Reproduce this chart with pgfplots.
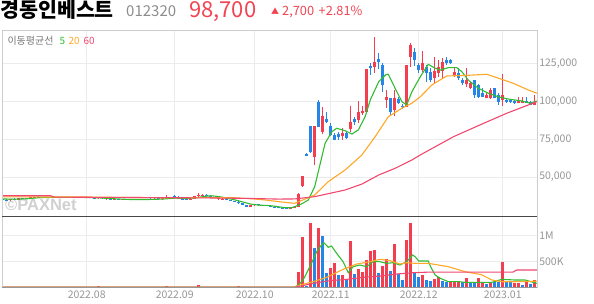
\documentclass[border=0pt]{standalone}
\usepackage{pgfplots}
\pgfplotsset{compat=1.18}
\usepackage{pgfplotstable}
\usepackage{fontspec}
\setmainfont{Noto Sans CJK KR}
\newfontfamily\lib{Liberation Sans}
\definecolor{cup}{RGB}{242,62,78}
\definecolor{cdn}{RGB}{38,134,232}
\definecolor{ma5}{RGB}{50,188,50}
\definecolor{ma20}{RGB}{255,168,40}
\definecolor{ma60}{RGB}{240,72,110}
\definecolor{gridc}{RGB}{236,236,236}
\definecolor{lab}{RGB}{150,150,150}
\definecolor{bordc}{RGB}{205,205,205}
\definecolor{darkc}{RGB}{70,70,70}
\definecolor{wm}{RGB}{208,208,208}
\definecolor{titr}{RGB}{240,68,82}
\definecolor{codec}{RGB}{140,140,140}
\definecolor{leg}{RGB}{120,120,120}

\pgfplotstableread{
d o h l c v vu
0 35500 35800 34600 34900 12 0
1 34900 35300 34400 34700 10 0
2 34700 35800 34500 35500 14 1
3 35500 35900 34900 35200 9 0
4 35200 36200 35000 35900 12 1
5 35900 36300 35400 35600 8 0
6 35600 36500 35500 36300 11 1
7 36300 36800 36000 36600 10 1
8 36600 37200 36300 36900 13 1
9 36900 37300 36400 36500 9 0
10 36500 37000 36300 36800 10 1
11 36800 37100 36400 36600 8 0
12 36600 37100 36300 36900 9 1
13 36900 37200 36500 36700 8 0
14 36700 37000 36200 36400 9 0
15 36400 36900 36200 36700 8 1
16 36700 37000 36400 36500 7 0
17 36500 36900 36300 36800 8 1
18 36800 37100 36500 36600 7 0
19 36600 36900 36300 36500 8 0
20 36500 37000 36300 36800 9 1
21 36800 37100 36400 36600 8 0
22 36600 36800 36100 36200 9 0
23 36200 36500 35800 35900 10 0
24 35900 37200 35700 36600 40 1
25 36600 36700 35800 35900 10 0
26 35400 35800 35100 35600 9 1
27 35600 35800 35000 35200 8 0
28 35200 35600 34900 35400 8 1
29 35400 35700 35000 35100 7 0
30 35100 35500 34800 35300 8 1
31 35300 35600 34900 35000 7 0
32 35000 35400 34700 35200 8 1
33 35200 35500 34800 34900 7 0
34 34900 35300 34600 35100 8 1
35 35100 35400 34700 34900 7 0
36 34900 35800 34800 35500 9 1
37 35500 35900 35000 35300 8 0
38 35300 36000 35100 35800 10 1
39 35800 36100 35300 35500 8 0
40 35500 36000 35200 35700 9 1
41 35700 38200 35600 36400 25 1
42 36400 37000 36000 36700 12 1
43 37500 38000 36600 36900 14 0
44 36900 37400 36200 36400 10 0
45 36000 36300 35000 35200 12 0
46 35600 36000 34900 35100 9 0
47 35100 36000 35000 35800 10 1
48 35800 37800 35700 37500 22 1
49 37300 39200 37100 38400 45 1
50 37600 38800 37400 38400 20 1
51 38500 38700 37500 37600 14 0
52 37600 37900 36800 37000 10 0
53 36200 36800 35900 36300 9 1
54 35400 36200 35100 35900 10 1
55 35200 35900 34900 35700 8 1
56 35700 35900 34800 34900 9 0
57 34900 35200 34100 34300 10 0
58 34200 34400 33500 33600 12 0
59 33600 34600 32500 32700 40 1
60 32700 32900 31400 31600 14 0
61 31600 31800 30400 30600 13 0
62 30600 31700 30400 31400 10 1
63 31300 32300 31100 32000 11 1
64 32000 32400 31200 31500 9 0
65 31500 31900 30900 31200 8 0
66 31200 31700 30800 31000 8 0
67 31000 31300 30000 30300 10 0
68 30300 30700 29700 29900 9 0
69 29900 30300 29300 29600 9 0
70 29600 30100 29200 29400 10 0
71 29400 29800 28900 29200 9 0
72 29200 30300 29100 30000 11 1
73 30000 31200 29800 30500 12 1
74 30500 39600 30200 39000 308 1
75 44000 50700 43500 50500 981 1
76 65000 65600 63600 64000 30 0
77 83700 83700 66000 66800 1250 1
78 63500 83700 58000 83700 757 0
79 99700 100900 83000 83200 1142 1
80 80000 96000 78200 90300 1000 0
81 88100 93100 85500 86600 276 0
82 83700 85500 77100 77800 385 1
83 77800 79000 74300 74500 481 1
84 78200 80000 74500 76300 244 0
85 77100 82200 74500 79300 244 1
86 78900 79600 75000 75600 167 0
87 81500 96900 80000 86500 904 1
88 88100 89400 84400 86500 263 0
89 87700 100200 85500 93100 360 1
90 92100 96900 91000 93800 300 1
91 93100 121500 92500 121100 533 1
92 123300 125000 117300 121800 706 1
93 122400 142200 118500 126100 725 1
94 127900 132100 121100 126100 276 0
95 123900 125000 106300 110800 424 1
96 100900 107500 95600 103000 550 1
97 102000 102000 91000 93100 321 0
98 94300 107500 90300 102000 840 1
99 101300 103000 98200 98700 257 0
100 96900 98200 95000 96000 148 0
101 96400 124000 96000 123900 917 1
102 129400 138300 122800 137100 1250 1
103 132700 135000 123000 127200 308 0
104 123900 125300 118700 120600 212 0
105 120600 133200 119500 125100 244 1
106 122800 123900 112900 118500 148 0
107 119500 121800 112900 114000 129 0
108 115600 129400 111900 120000 167 1
109 118500 127200 116200 122800 212 1
110 120000 128400 115600 126100 129 0
111 127200 129400 123900 125000 103 0
112 127200 127900 124300 125000 116 1
113 117300 122800 116200 119500 129 1
114 118500 121800 114000 115100 129 1
115 114000 115600 110800 111900 103 0
116 111200 121800 109600 114000 193 1
117 108600 112800 107900 111900 116 0
118 114000 114000 102000 104200 103 0
119 110800 111500 102300 103000 193 1
120 105300 109000 103000 103000 103 1
121 102000 106300 102000 104200 71 0
122 102000 108600 101500 107500 103 1
123 108600 108600 102000 102000 103 0
124 104200 105300 97600 99700 103 0
125 100900 117800 97100 104200 501 1
126 100900 101500 99000 99700 129 0
127 100900 101200 98800 99300 103 0
128 100200 100600 98200 98700 84 1
129 98700 103000 98700 100200 84 1
130 99100 103000 98800 100200 52 0
131 100200 103000 98800 99100 103 1
132 99700 100000 97300 97800 65 0
133 97800 104000 97500 98700 148 1
}\candles

\begin{document}
\begin{tikzpicture}
\node[anchor=base west, inner sep=0, text=wm] at (5pt,93.5pt) {\lib\bfseries\fontsize{16.5}{16.5}\selectfont ©PAXNet};

\begin{axis}[
  at={(2pt,87.3pt)}, anchor=south west, scale only axis, width=535.3pt, height=186.7pt,
  xmin=-0.175, xmax=133.65, ymin=23883, ymax=147030,
  axis line style={draw=none}, major tick length=0pt,
  xtick={21,43,63,82,104,125}, xticklabels={},
  ytick={50000,75000,100000,125000}, yticklabel pos=right,
  grid=major, grid style={gridc, line width=0.8pt},
  scaled y ticks=false,
  tick label style={font=\fontsize{10.5}{10.5}\selectfont, text=lab},
  yticklabel style={xshift=-1.5pt, /pgf/number format/fixed, /pgf/number format/1000 sep={,}},
  /pgf/number format/assume math mode=true]
% wicks
\addplot[draw=none, mark=none, forget plot,
  restrict expr to domain={\thisrow{c}-\thisrow{o}}{0:10000000},
  error bars/.cd, y dir=plus, y explicit, error mark=none,
  error bar style={draw=cup, line width=0.9pt}]
  table[x=d, y=l, y error plus expr={\thisrow{h}-\thisrow{l}}] {\candles};
\addplot[draw=none, mark=none, forget plot,
  restrict expr to domain={\thisrow{c}-\thisrow{o}}{-10000000:-1},
  error bars/.cd, y dir=plus, y explicit, error mark=none,
  error bar style={draw=cdn, line width=0.9pt}]
  table[x=d, y=l, y error plus expr={\thisrow{h}-\thisrow{l}}] {\candles};
% bodies
\addplot[draw=none, mark=none, forget plot,
  restrict expr to domain={\thisrow{c}-\thisrow{o}}{0:10000000},
  error bars/.cd, y dir=plus, y explicit, error mark=none,
  error bar style={draw=cup, line width=2.9pt}]
  table[x=d, y=o, y error plus expr={max(\thisrow{c}-\thisrow{o},500)}] {\candles};
\addplot[draw=none, mark=none, forget plot,
  restrict expr to domain={\thisrow{c}-\thisrow{o}}{-10000000:-1},
  error bars/.cd, y dir=plus, y explicit, error mark=none,
  error bar style={draw=cdn, line width=2.9pt}]
  table[x=d, y=c, y error plus expr={max(\thisrow{o}-\thisrow{c},500)}] {\candles};
% moving averages
\addplot[ma5, line width=1.1pt, no marks] coordinates {
(0,35600) (3,35400) (6,35700) (9,36400) (12,36600) (16,36600) (20,36600) (24,36300)
(28,35700) (32,35200) (36,35200) (40,35500) (43,36100) (46,36000) (48,36200) (50,37100)
(52,37700) (54,37200) (56,36100) (58,35000) (60,33600) (62,32200) (64,31500) (66,31300)
(68,30800) (70,30000) (72,29700) (73,30500) (74.5,32000) (76.4,34900) (78,43700)
(79.4,59100) (80.6,72300) (82.3,79950) (83.5,82200) (85.6,80600) (87.3,78400)
(88.9,81100) (90.6,89800) (91.9,100900) (94,112900) (95.8,117600) (96.4,117800)
(98.1,108600) (99.8,99700) (101,97600) (102.3,106300) (104.4,116200) (106.4,124400)
(108.1,121800) (109.4,120600) (111.4,122200) (113.5,122200) (114.8,119500)
(116.4,114000) (118.9,108600) (121.4,105300) (123.9,103000) (126.4,101500)
(129.8,100200) (131.9,98700) (133.5,100200)};
\addplot[ma20, line width=1.1pt, no marks] coordinates {
(0,37000) (10,36900) (20,36900) (30,36600) (40,36400) (50,36500) (57,36500) (62,35800)
(66,34800) (70,33500) (73,32700) (78,38200) (81.4,47000) (85.6,54700) (89.8,64600)
(93.1,76600) (96.4,89800) (99.8,95400) (102.3,98700) (104.4,103000) (107.3,110750)
(109.3,114050) (111,116700) (116,117100) (121,117800) (124,115200) (127.6,111900)
(131.4,107450) (133.6,105300)};
\addplot[ma60, line width=1.1pt, no marks] coordinates {
(0,37700) (12,37700) (13,36800) (36,36500) (50,36300) (60,36000) (69,35500) (73,35600)
(78,37100) (85.6,41500) (89.8,45400) (94,51400) (98.1,55800) (102.3,61300) (104.4,64600)
(112.7,76650) (119.3,84400) (126,92100) (133.5,99700)};
\end{axis}

\begin{axis}[
  at={(2pt,16.3pt)}, anchor=south west, scale only axis, width=535.3pt, height=71pt,
  xmin=-0.175, xmax=133.65, ymin=0, ymax=1365,
  axis line style={draw=none}, major tick length=0pt,
  xtick={21,43,63,82,104,125},
  xticklabels={2022.08,2022.09,2022.10,2022.11,2022.12,2023.01},
  ytick={500,1000}, yticklabels={500K,1M}, yticklabel pos=right,
  grid=major, grid style={gridc, line width=0.8pt},
  tick label style={font=\fontsize{10.5}{10.5}\selectfont, text=lab},
  yticklabel style={xshift=-1.5pt}, xticklabel style={yshift=0.5pt}]
\addplot[ycomb, draw=cup, line width=2.9pt, no marks, forget plot,
  restrict expr to domain={\thisrow{vu}}{0.5:1.5}]
  table[x=d, y=v] {\candles};
\addplot[ycomb, draw=cdn, line width=2.9pt, no marks, forget plot,
  restrict expr to domain={\thisrow{vu}}{-0.5:0.5}]
  table[x=d, y=v] {\candles};
\addplot[ma5, line width=1.1pt, no marks] coordinates {
(0,12) (73,12) (73.9,51) (75.1,147) (77.2,468) (78.5,692) (79.7,820) (80.3,865)
(81.4,776) (82.2,801) (83.5,660) (85.1,500) (86.4,288) (87.6,404) (89.3,436) (91,404)
(92.6,500) (94.3,500) (96,468) (97.6,481) (99.3,436) (101,500) (102.5,628) (103.1,596)
(104,513) (106.4,513) (107,400) (108.1,244) (109.4,180) (111.4,116) (113.9,116)
(115.6,103) (122.3,103) (124.8,161) (128,148) (130.6,148) (133.5,84)};
\addplot[ma20, line width=1.1pt, no marks] coordinates {
(0,12) (73,12) (74.3,51) (77.6,115) (81,199) (85.1,353) (88.5,455) (91.8,500) (94.3,545)
(96.8,519) (99.3,455) (101,481) (103.1,469) (106.4,469) (111.4,404) (115.6,308)
(119.7,250) (122.3,148) (124.8,115) (128,115) (133.5,125)};
\addplot[ma60, line width=1.1pt, no marks] coordinates {
(0,8) (73,8) (77.6,83) (81.8,135) (86,160) (90.1,199) (94.3,224) (98.5,263) (102.6,288)
(106,298) (127.5,298) (128.5,340) (133.6,340)};
\end{axis}

\draw[bordc, line width=0.8pt] (2pt,16.3pt) -- (2pt,274pt) -- (537.3pt,274pt);
\draw[bordc, line width=1.4pt] (537.3pt,274pt) -- (537.3pt,16.3pt);
\draw[darkc, line width=1.2pt] (2pt,87.3pt) -- (537.3pt,87.3pt);
\draw[lab, line width=0.9pt] (2pt,16.3pt) -- (537.3pt,16.3pt);

\node[anchor=base west, inner sep=0] at (0pt,286.6pt) {\fontsize{20.6}{20.6}\selectfont\bfseries 경동인베스트};
\node[anchor=base west, inner sep=0, text=codec] at (126pt,287.4pt) {\fontsize{15}{15}\selectfont 012320};
\node[anchor=base west, inner sep=0, text=titr] at (189pt,286pt) {\fontsize{22}{22}\selectfont 98,700};
\node[anchor=base west, inner sep=0, text=titr] at (271pt,289pt) {\fontsize{8}{8}\selectfont ▲};
\node[anchor=base west, inner sep=0, text=titr] at (282pt,288pt) {\fontsize{12.8}{12.8}\selectfont 2,700\hspace{4.5pt}+2.81\%};
\node[anchor=base west, inner sep=0, text=leg] at (7.3pt,259.7pt) {\fontsize{10}{10}\selectfont 이동평균선};
\node[anchor=base west, inner sep=0, text=ma5] at (59.3pt,259.3pt) {\fontsize{10}{10}\selectfont 5};
\node[anchor=base west, inner sep=0, text=ma20] at (68.3pt,259.3pt) {\fontsize{10}{10}\selectfont 20};
\node[anchor=base west, inner sep=0, text=ma60] at (83.3pt,259.3pt) {\fontsize{10}{10}\selectfont 60};

\pgfresetboundingbox
\useasboundingbox (0pt,0pt) rectangle (594pt,304pt);
\end{tikzpicture}
\end{document}
